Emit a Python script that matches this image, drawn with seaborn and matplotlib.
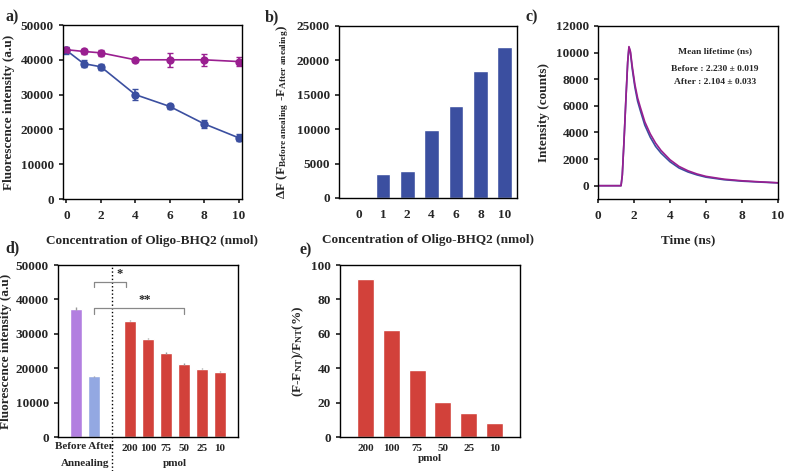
import matplotlib
matplotlib.use('Agg')
import matplotlib.pyplot as plt
import numpy as np
import pandas as pd
import seaborn as sns

# ---- data ----
conc = [0, 1, 2, 4, 6, 8, 10]
a_blue = [42700, 38900, 38000, 30000, 26600, 21600, 17600]
a_blue_err = [900, 1100, 800, 1500, 600, 1200, 1000]
a_purple = [42900, 42400, 42000, 40000, 40000, 40000, 39500]
a_purple_err = [700, 600, 800, 600, 2000, 1700, 1200]

b_labels = ['0', '1', '2', '4', '6', '8', '10']
b_delta = [200, 3500, 3900, 9900, 13400, 18400, 22000]

c_time = [0, 1.28, 1.35, 1.45, 1.55, 1.65, 1.72, 1.8, 1.9, 2.05, 2.2, 2.35, 2.6, 2.9,
          3.2, 3.5, 4.0, 4.5, 5.0, 5.5, 6.0, 7.0, 8.0, 9.0, 10.0]
c_after = [0, 0, 800, 3500, 6500, 9300, 10450, 10100, 9000, 7600, 6600, 5900, 4800, 3900,
           3200, 2650, 1950, 1450, 1120, 880, 700, 490, 370, 290, 220]
c_before = [0, 0, 800, 3500, 6500, 9300, 10400, 10000, 8800, 7400, 6350, 5650, 4550, 3650,
            2950, 2450, 1800, 1330, 1030, 810, 640, 450, 340, 270, 210]

d_labels = ['Before', 'After', '200', '100', '75', '50', '25', '10']
d_values = [37300, 17600, 33800, 28600, 24400, 21200, 19900, 19000]
d_err = [500, 200, 200, 200, 200, 200, 150, 150]

e_labels = ['200', '100', '75', '50', '25', '10']
e_values = [92, 62, 39, 20.5, 14, 8]

PURPLE = '#9a1f90'
BLUE = '#3b4fa0'
RED = '#d2413a'

sns.set_theme(style='ticks')
plt.rcParams['font.family'] = ['Liberation Serif', 'DejaVu Serif']
plt.rcParams['font.weight'] = 'bold'
plt.rcParams['axes.labelweight'] = 'bold'
plt.rcParams['mathtext.fontset'] = 'custom'
plt.rcParams['mathtext.rm'] = 'Liberation Serif:bold'
plt.rcParams['mathtext.it'] = 'Liberation Serif:bold:italic'
plt.rcParams['mathtext.bf'] = 'Liberation Serif:bold'
plt.rcParams['axes.linewidth'] = 1
plt.rcParams['xtick.major.size'] = 3
plt.rcParams['ytick.major.size'] = 3
plt.rcParams['xtick.labelsize'] = 9.5
plt.rcParams['ytick.labelsize'] = 9.5
plt.rcParams['axes.labelsize'] = 9.5

W, H = 785, 471
fig = plt.figure(figsize=(W / 100, H / 100), dpi=100)


def px_axes(l, r, t, b):
    return fig.add_axes([l / W, 1 - b / H, (r - l) / W, (b - t) / H])


def frame(ax):
    for s in ax.spines.values():
        s.set_visible(True)
        s.set_color('black')
        s.set_linewidth(1)


# ---- a) ----
ax = px_axes(63, 242, 25, 199)
df_a = pd.DataFrame({'x': conc * 2, 'y': a_blue + a_purple,
                     's': ['blue'] * 7 + ['purple'] * 7})
sns.lineplot(data=df_a, x='x', y='y', hue='s', palette={'blue': BLUE, 'purple': PURPLE},
             marker='o', markersize=6, markeredgewidth=0, linewidth=1.2, legend=False, ax=ax)
ax.errorbar(conc, a_blue, yerr=a_blue_err, fmt='none', ecolor=BLUE, capsize=2.5, elinewidth=1.2)
ax.errorbar(conc, a_purple, yerr=a_purple_err, fmt='none', ecolor=PURPLE, capsize=2.5, elinewidth=1.2)
ax.set_xlim(-0.2, 10.2)
ax.set_ylim(0, 50000)
ax.set_xticks(range(0, 11, 2))
ax.set_yticks(range(0, 50001, 10000))
ax.tick_params(axis='x', pad=5)
ax.set_xlabel('Concentration of Oligo-BHQ2 (nmol)', labelpad=9)
ax.set_ylabel('Fluorescence intensity (a.u)')
frame(ax)

# ---- b) ----
ax = px_axes(339, 517, 26, 198)
sns.barplot(x=b_labels, y=b_delta, color=BLUE, saturation=1, width=0.6, ax=ax)
ax.set_xlim(-0.8, 6.5)
ax.set_ylim(0, 25000)
ax.set_yticks(range(0, 25001, 5000))
ax.tick_params(axis='x', length=0, pad=8)
ax.set_xlabel('Concentration of Oligo-BHQ2 (nmol)', labelpad=9)
ax.set_ylabel(r'ΔF (F$_{\rm Before\ anealing}$ -F$_{\rm After\ anealing}$)')
frame(ax)

# ---- c) ----
ax = px_axes(598, 778, 26, 199)
sns.lineplot(x=c_time, y=c_before, color=BLUE, linewidth=1.2, ax=ax)
sns.lineplot(x=c_time, y=c_after, color=PURPLE, linewidth=1.2, ax=ax)
ax.set_xlim(0, 10)
ax.set_ylim(-1000, 12000)
ax.set_xticks(range(0, 11, 2))
ax.set_yticks(range(0, 12001, 2000))
ax.tick_params(axis='x', pad=5)
ax.set_xlabel('Time (ns)', labelpad=9)
ax.set_ylabel('Intensity (counts)')
ax.text(0.65, 0.84, 'Mean lifetime (ns)', transform=ax.transAxes, ha='center', fontsize=6.8)
ax.text(0.65, 0.74, 'Before : 2.230 ± 0.019', transform=ax.transAxes, ha='center', fontsize=6.8)
ax.text(0.65, 0.665, 'After : 2.104 ± 0.033', transform=ax.transAxes, ha='center', fontsize=6.8)
frame(ax)

# ---- d) ----
ax = px_axes(58, 238, 265, 437)
d_pos = np.r_[0, 1, 3 + np.arange(6)]
d_colors = ['#b27fe0', '#93a8e2'] + [RED] * 6
ax.bar(d_pos, d_values, width=0.65, color=d_colors, yerr=d_err,
       error_kw=dict(ecolor='#999999', capsize=0, elinewidth=1))
ax.set_xlim(-1, 9)
ax.set_ylim(0, 50000)
ax.set_yticks(range(0, 50001, 10000))
ax.set_xticks(d_pos)
ax.set_xticklabels([''] * 2 + d_labels[2:], fontsize=8)
ax.tick_params(axis='x', length=0, pad=5)
xt = ax.get_xaxis_transform()
ax.text(0.45, -0.03, ' '.join(d_labels[:2]), transform=xt, ha='center', va='top', fontsize=8)
ax.text(0.5, -0.13, 'Annealing', transform=xt, ha='center', va='top', fontsize=8)
ax.text(5.5, -0.13, 'pmol', transform=xt, ha='center', va='top', fontsize=8)
ax.axvline(2, ymin=-0.2, ymax=1, color='black', linestyle=':', linewidth=1, clip_on=False)
ax.plot([1, 1, 2.8, 2.8], [43600, 45150, 45150, 43600], color='#888888', linewidth=0.9)
ax.plot([1, 1, 6, 6], [35750, 37600, 37600, 35750], color='#888888', linewidth=0.9)
ax.text(2.4, 45600, '*', ha='center', va='bottom', fontsize=9)
ax.text(3.8, 38000, '**', ha='center', va='bottom', fontsize=9)
ax.set_ylabel('Fluorescence intensity (a.u)', fontsize=9.5, labelpad=3)
frame(ax)

# ---- e) ----
ax = px_axes(340, 520, 265, 437)
sns.barplot(x=e_labels, y=e_values, color=RED, saturation=1, width=0.67, ax=ax)
ax.set_xlim(-1, 6)
ax.set_ylim(0, 100)
ax.set_yticks(range(0, 101, 20))
ax.tick_params(axis='x', length=0, pad=5, labelsize=8)
ax.set_xlabel('pmol', labelpad=1, fontsize=8)
ax.set_ylabel(r'(F-F$_{\rm NT}$)/F$_{\rm NT}$(%)')
frame(ax)

# ---- panel letters ----
for lab, x, y in [('a)', 5, 17), ('b)', 265, 17), ('c)', 525, 17), ('d)', 5, 248), ('e)', 300, 250)]:
    fig.text(x / W, 1 - y / H, lab, fontsize=11.5, fontweight='bold', va='center')

fig.savefig('out.png', dpi=100)
